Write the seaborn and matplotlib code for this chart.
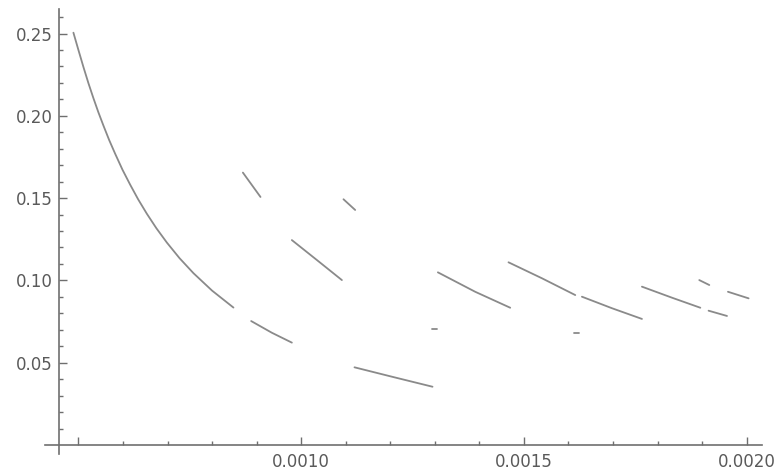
import numpy as np
import pandas as pd
import matplotlib
matplotlib.use("Agg")
import matplotlib.pyplot as plt
from matplotlib.ticker import FixedLocator, FixedFormatter
import seaborn as sns

# Branch pieces of the solution curve (x, y)
arc01_x = [0.0004888, 0.0005000, 0.0005112, 0.0005225, 0.0005337, 0.0005450,
           0.0005561, 0.0005690, 0.0005824, 0.0005990, 0.0006161, 0.0006340,
           0.0006536, 0.0006750, 0.0006985, 0.0007270, 0.0007582, 0.0008000,
           0.0008480]
arc01_y = [0.2505, 0.2400, 0.2297, 0.2198, 0.2107, 0.2020, 0.1941, 0.1853,
           0.1770, 0.1672, 0.1582, 0.1493, 0.1405, 0.1317, 0.1230, 0.1135,
           0.1044, 0.0938, 0.0835]
arc02_x = [0.0008878, 0.0009342, 0.0009791]
arc02_y = [0.0753, 0.0682, 0.0622]
arc03_x = [0.0011197, 0.0012036, 0.0012948]
arc03_y = [0.0472, 0.0415, 0.0354]
arc04_x = [0.0008692, 0.0009087]
arc04_y = [0.1655, 0.1507]
arc05_x = [0.0010950, 0.0011212]
arc05_y = [0.1493, 0.1428]
arc06_x = [0.0009791, 0.0010352, 0.0010914]
arc06_y = [0.1245, 0.1124, 0.1002]
arc07_x = [0.0013069, 0.0013906, 0.0014692]
arc07_y = [0.1049, 0.0931, 0.0834]
arc08_x = [0.0012934, 0.0013047]
arc08_y = [0.0707, 0.0707]
arc09_x = [0.0014654, 0.0015404, 0.0016152]
arc09_y = [0.1110, 0.1013, 0.0911]
arc10_x = [0.0016302, 0.0016976, 0.0017649]
arc10_y = [0.0901, 0.0831, 0.0766]
arc11_x = [0.0016114, 0.0016242]
arc11_y = [0.0682, 0.0682]
arc12_x = [0.0017649, 0.0018323, 0.0018959]
arc12_y = [0.0962, 0.0895, 0.0834]
arc13_x = [0.0018936, 0.0019161]
arc13_y = [0.1002, 0.0972]
arc14_x = [0.0019145, 0.0019558]
arc14_y = [0.0816, 0.0784]
arc15_x = [0.0019580, 0.0020043]
arc15_y = [0.0931, 0.0891]

arcs = [
    (arc01_x, arc01_y), (arc02_x, arc02_y), (arc03_x, arc03_y),
    (arc04_x, arc04_y), (arc05_x, arc05_y), (arc06_x, arc06_y),
    (arc07_x, arc07_y), (arc08_x, arc08_y), (arc09_x, arc09_y),
    (arc10_x, arc10_y), (arc11_x, arc11_y), (arc12_x, arc12_y),
    (arc13_x, arc13_y), (arc14_x, arc14_y), (arc15_x, arc15_y),
]

x_major = [0.0005, 0.0010, 0.0015, 0.0020]
x_major_labels = ["", "0.0010", "0.0015", "0.0020"]
y_major = [0.05, 0.10, 0.15, 0.20, 0.25]
y_major_labels = ["0.05", "0.10", "0.15", "0.20", "0.25"]

rows = []
for i, (xs, ys) in enumerate(arcs):
    for k, (xv, yv) in enumerate(zip(xs, ys)):
        rows.append({"segment": i, "order": k, "x": xv, "y": yv})
df = pd.DataFrame(rows)

sns.set_theme(style="white")
plt.rcParams["font.family"] = ["DejaVu Sans"]

fig = plt.figure(figsize=(7.78, 4.70), dpi=100)
ax = fig.add_axes([45 / 778, 16 / 470, 717 / 778, 445 / 470])

sns.lineplot(data=df, x="x", y="y", units="segment", estimator=None,
             sort=False, color="#8a8a8a", linewidth=1.3, ax=ax, legend=False)

ax.set_xlim(0.000425, 0.0020344)
ax.set_ylim(-0.00547, 0.2649)

axis_color = "#6f6f6f"
for side in ["top", "right"]:
    ax.spines[side].set_visible(False)
ax.spines["left"].set_position(("data", 0.0004573))
ax.spines["bottom"].set_position(("data", 0.0))
for side in ["left", "bottom"]:
    ax.spines[side].set_color(axis_color)
    ax.spines[side].set_linewidth(1.2)

ax.xaxis.set_major_locator(FixedLocator(x_major))
ax.xaxis.set_major_formatter(FixedFormatter(x_major_labels))
ax.xaxis.set_minor_locator(FixedLocator(np.round(np.arange(0.0006, 0.00201, 0.0001), 5)))
ax.yaxis.set_major_locator(FixedLocator(y_major))
ax.yaxis.set_major_formatter(FixedFormatter(y_major_labels))
ax.yaxis.set_minor_locator(FixedLocator(np.round(np.arange(0.01, 0.261, 0.01), 3)))

ax.tick_params(which="both", bottom=True, left=True, top=False, right=False,
               direction="in", color=axis_color, width=1.0,
               labelcolor="#5a5a5a", labelsize=12)
ax.tick_params(which="major", length=5.5)
ax.tick_params(which="minor", length=3.2)
ax.tick_params(axis="x", which="major", pad=6)
ax.tick_params(axis="y", which="major", pad=5)

ax.set_xlabel("")
ax.set_ylabel("")
ax.grid(False)

fig.savefig("out.png", dpi=100)
